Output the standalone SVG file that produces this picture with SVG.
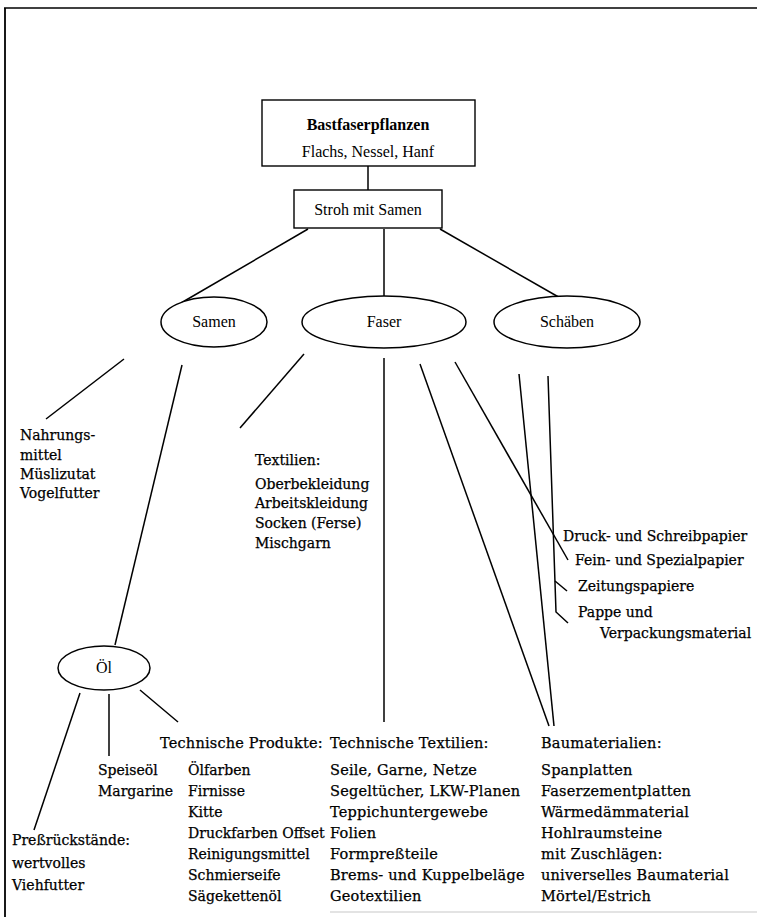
<svg xmlns="http://www.w3.org/2000/svg" width="757" height="917" viewBox="0 0 757 917">
<style>
.box{fill:#fff;stroke:#000;stroke-width:1.4}
.ell{fill:#fff;stroke:#000;stroke-width:1.5}
.head{font-family:"Liberation Serif","Times New Roman",serif;font-size:16px;fill:#000}
.body{font-family:"DejaVu Serif","Liberation Serif",serif;font-size:14px;fill:#000;stroke:#000;stroke-width:0.25}
.low{font-size:14.5px;letter-spacing:0.2px}
.con line,.con polyline{stroke:#000;stroke-width:1.5;fill:none}
</style>
<rect width="757" height="917" fill="#fff"/>
<g id="frame" stroke="#000" fill="none">
<line x1="4" y1="8" x2="757" y2="8" stroke-width="1.6"/>
<line x1="5" y1="8" x2="5" y2="917" stroke-width="1.8"/>
<line x1="330" y1="912" x2="757" y2="912" stroke="#c8c8c8" stroke-width="1.2"/>
</g>
<g class="con" id="connectors">
<line x1="368" y1="166" x2="368" y2="190"/>
<line x1="308" y1="229" x2="181" y2="303"/>
<line x1="384" y1="229" x2="384" y2="297"/>
<line x1="440" y1="229" x2="562" y2="299"/>
<line x1="124" y1="359" x2="46" y2="419"/>
<line x1="182" y1="365" x2="115" y2="645"/>
<line x1="304" y1="354" x2="240" y2="428"/>
<line x1="384" y1="358" x2="384" y2="722"/>
<line x1="420" y1="364" x2="549" y2="726"/>
<line x1="455" y1="362" x2="568" y2="560"/>
<line x1="519" y1="374" x2="554" y2="726"/>
<polyline points="548,376 556,612 568,623"/>
<line x1="555" y1="581" x2="567" y2="591"/>
<line x1="80" y1="693" x2="34" y2="830"/>
<line x1="109" y1="694" x2="109" y2="756"/>
<line x1="140" y1="690" x2="178" y2="722"/>
</g>
<g id="bastfaserpflanzen">
<rect class="box" x="262" y="100" width="213" height="66"/>
<text class="head" x="368" y="130" text-anchor="middle" font-weight="bold" font-size="17">Bastfaserpflanzen</text>
<text class="head" x="368" y="157" text-anchor="middle">Flachs, Nessel, Hanf</text>
</g>
<g id="stroh">
<rect class="box" x="294" y="190" width="148" height="38"/>
<text class="head" x="368" y="215" text-anchor="middle">Stroh mit Samen</text>
</g>
<g id="samen">
<ellipse class="ell" cx="214" cy="322" rx="53" ry="25"/>
<text class="head" x="214" y="327" text-anchor="middle">Samen</text>
</g>
<g id="faser">
<ellipse class="ell" cx="384" cy="322" rx="82" ry="26"/>
<text class="head" x="384" y="327" text-anchor="middle">Faser</text>
</g>
<g id="schaeben">
<ellipse class="ell" cx="567" cy="322" rx="73" ry="26"/>
<text class="head" x="567" y="327" text-anchor="middle">Schäben</text>
</g>
<g id="oel">
<ellipse class="ell" cx="104" cy="668" rx="46" ry="22"/>
<text class="head" x="104" y="673" text-anchor="middle">Öl</text>
</g>
<g id="nahrung" class="body">
<text x="20" y="440">Nahrungs-</text>
<text x="20" y="460">mittel</text>
<text x="20" y="479">Müslizutat</text>
<text x="20" y="498">Vogelfutter</text>
</g>
<g id="textilien" class="body">
<text x="255" y="465">Textilien:</text>
<text x="255" y="489">Oberbekleidung</text>
<text x="255" y="508">Arbeitskleidung</text>
<text x="255" y="528">Socken (Ferse)</text>
<text x="255" y="548">Mischgarn</text>
</g>
<g id="papier" class="body">
<text x="563" y="541">Druck- und Schreibpapier</text>
<text x="575" y="565">Fein- und Spezialpapier</text>
<text x="578" y="591">Zeitungspapiere</text>
<text x="578" y="617">Pappe und</text>
<text x="600" y="638">Verpackungsmaterial</text>
</g>
<g id="technische-produkte" class="body">
<text class="low" x="160" y="748">Technische Produkte:</text>
<text x="188" y="775">Ölfarben</text>
<text x="188" y="796">Firnisse</text>
<text x="188" y="817">Kitte</text>
<text x="188" y="838">Druckfarben Offset</text>
<text x="188" y="859">Reinigungsmittel</text>
<text x="188" y="880">Schmierseife</text>
<text x="188" y="901">Sägekettenöl</text>
</g>
<g id="speiseoel" class="body">
<text x="98" y="775">Speiseöl</text>
<text x="98" y="796">Margarine</text>
</g>
<g id="pressrueckstaende" class="body">
<text x="12" y="845">Preßrückstände:</text>
<text x="12" y="868">wertvolles</text>
<text x="12" y="890">Viehfutter</text>
</g>
<g id="technische-textilien" class="body low">
<text x="330" y="748">Technische Textilien:</text>
<text x="330" y="775">Seile, Garne, Netze</text>
<text x="330" y="796">Segeltücher, LKW-Planen</text>
<text x="330" y="817">Teppichuntergewebe</text>
<text x="330" y="838">Folien</text>
<text x="330" y="859">Formpreßteile</text>
<text x="330" y="880">Brems- und Kuppelbeläge</text>
<text x="330" y="901">Geotextilien</text>
</g>
<g id="baumaterialien" class="body low">
<text x="541" y="748">Baumaterialien:</text>
<text x="541" y="775">Spanplatten</text>
<text x="541" y="796">Faserzementplatten</text>
<text x="541" y="817">Wärmedämmaterial</text>
<text x="541" y="838">Hohlraumsteine</text>
<text x="541" y="859">mit Zuschlägen:</text>
<text x="541" y="880">universelles Baumaterial</text>
<text x="541" y="901">Mörtel/Estrich</text>
</g>
</svg>
